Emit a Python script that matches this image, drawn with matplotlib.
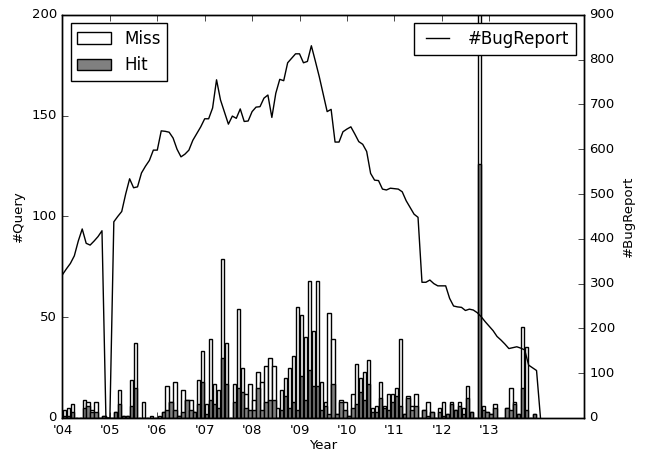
import numpy as np
import matplotlib
matplotlib.use("Agg")
from matplotlib import pyplot as plt

# monthly query counts, Jan 2004 onwards
miss = [4, 5, 7, 0, 0, 9, 8, 4, 8, 0, 1, 0,
        0, 3, 14, 1, 1, 19, 37, 0, 8, 0, 1, 0,
        1, 3, 16, 8, 18, 1, 14, 9, 9, 3, 19, 33,
        7, 39, 17, 14, 79, 37, 0, 17, 54, 25, 12, 17,
        9, 23, 18, 26, 30, 26, 5, 14, 20, 25, 31, 55,
        51, 40, 68, 43, 68, 18, 8, 52, 39, 2, 9, 8,
        1, 12, 27, 20, 23, 29, 5, 6, 18, 6, 12, 12,
        15, 39, 2, 11, 6, 12, 0, 4, 8, 3, 0, 5,
        8, 2, 8, 4, 8, 5, 16, 3, 0, 250, 6, 3,
        2, 7, 0, 0, 5, 15, 8, 2, 45, 35, 0, 2]
hit = [1, 1, 3, 0, 0, 5, 6, 3, 3, 0, 1, 0,
       0, 3, 7, 1, 1, 6, 15, 0, 0, 0, 0, 0,
       0, 3, 4, 8, 4, 1, 3, 9, 4, 3, 7, 18,
       2, 9, 7, 5, 30, 17, 0, 8, 15, 13, 5, 4,
       4, 15, 4, 8, 9, 9, 0, 4, 11, 5, 8, 4,
       21, 9, 24, 16, 16, 4, 6, 2, 17, 2, 8, 4,
       1, 5, 7, 13, 9, 17, 3, 3, 10, 5, 4, 8,
       11, 6, 2, 10, 4, 6, 0, 4, 1, 3, 0, 3,
       1, 2, 7, 4, 6, 2, 10, 3, 0, 126, 4, 3,
       2, 5, 0, 0, 5, 4, 7, 2, 15, 4, 0, 2]
bug_reports = [320, 333, 345, 362, 395, 422, 390, 386, 395, 405, 418, 0,
               0, 438, 450, 461, 500, 534, 514, 516, 547, 562, 575, 598,
               598, 641, 640, 638, 625, 600, 583, 589, 598, 620, 635, 650,
               668, 668, 692, 755, 710, 683, 656, 674, 669, 690, 662, 663,
               684, 694, 695, 714, 721, 671, 725, 756, 753, 793, 803, 813,
               813, 793, 796, 831, 797, 762, 723, 684, 689, 616, 616, 639,
               645, 650, 634, 617, 611, 595, 546, 531, 530, 511, 509, 513,
               512, 511, 505, 485, 470, 455, 448, 303, 303, 308, 300, 295,
               295, 295, 267, 250, 248, 247, 240, 243, 241, 235, 226, 215,
               205, 195, 182, 174, 165, 155, 157, 159, 156, 152, 118, 112,
               106, 0]
year_labels = ["'04", "'05", "'06", "'07", "'08", "'09", "'10", "'11", "'12", "'13"]


def main():
    plt.style.use("classic")
    plt.rcParams["font.size"] = 9.5

    fig = plt.figure(figsize=(6.66, 4.54), dpi=100, facecolor="white")
    ax1 = fig.add_axes([0.0938, 0.0793, 0.783, 0.888])

    months = np.arange(len(miss))
    ax1.bar(months + 0.5, miss, width=0.85, color="white", edgecolor="black",
            linewidth=1.0, label="Miss")
    ax1.bar(months + 0.5, hit, width=0.85, color="gray", edgecolor="black",
            linewidth=1.0, label="Hit")
    ax1.set_xlim(0, 132)
    ax1.set_ylim(0, 200)
    ax1.set_yticks(np.arange(0, 201, 50))
    ax1.set_xticks(np.arange(0, 12 * len(year_labels), 12))
    ax1.set_xticklabels(year_labels)
    ax1.set_xlabel("Year", labelpad=2)
    ax1.set_ylabel("#Query")
    ax1.legend(loc="upper left", fontsize=12)

    ax2 = ax1.twinx()
    ax2.plot(np.arange(len(bug_reports)), bug_reports, color="black",
             linewidth=1.0, label="#BugReport")
    ax2.set_xlim(0, 132)
    ax2.set_ylim(0, 900)
    ax2.set_yticks(np.arange(0, 901, 100))
    ax2.set_ylabel("#BugReport")
    ax2.legend(loc="upper right", fontsize=12)

    plt.savefig("out.png", dpi=100, facecolor="white")
    plt.close()


if __name__ == "__main__":
    main()
